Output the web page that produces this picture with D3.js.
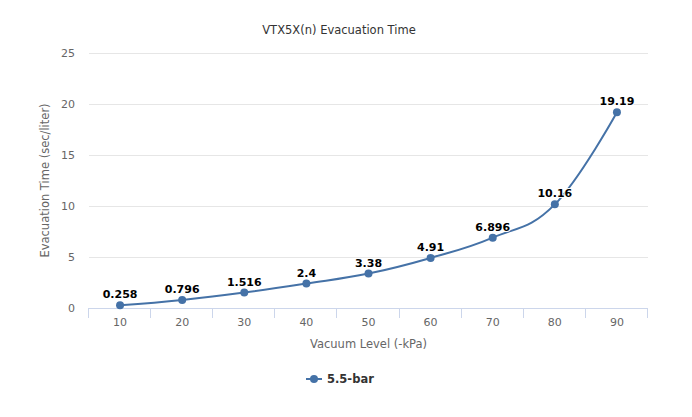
<!DOCTYPE html>
<html><head><meta charset="utf-8">
<script src="https://cdn.jsdelivr.net/npm/d3@7"></script>
<style>body{margin:0;background:#fff}svg{display:block}</style>
</head><body>
<svg id="chart" width="692" height="417"></svg>
<script>
const categories = ["10","20","30","40","50","60","70","80","90"];
const values = [0.258, 0.796, 1.516, 2.4, 3.38, 4.91, 6.896, 10.16, 19.19];
const labels = ["0.258","0.796","1.516","2.4","3.38","4.91","6.896","10.16","19.19"];
const yTicks = [0, 5, 10, 15, 20, 25];
const seriesName = "5.5-bar";
const title = "VTX5X(n) Evacuation Time";
const xTitle = "Vacuum Level (-kPa)";
const yTitle = "Evacuation Time (sec/liter)";

const FONT = "'DejaVu Sans', Verdana, sans-serif";
const color = "#4572a7";
const svg = d3.select("#chart");
const L = 89, R = 648, T = 53, B = 308;

const x = d3.scaleBand().domain(categories).range([L, R]);
const y = d3.scaleLinear().domain([0, 25]).range([B, T]);

svg.append("text").attr("x", 339).attr("y", 34).attr("text-anchor", "middle")
  .attr("font-family", FONT).attr("font-size", 11.5).attr("fill", "#333").text(title);

// grid
svg.append("g").selectAll("line").data(yTicks.filter(d => d > 0)).join("line")
  .attr("x1", L).attr("x2", R).attr("y1", d => Math.round(y(d)) + 0.5).attr("y2", d => Math.round(y(d)) + 0.5)
  .attr("stroke", "#e6e6e6");

// y labels
svg.append("g").selectAll("text").data(yTicks).join("text")
  .attr("x", 75).attr("y", d => y(d) + 4).attr("text-anchor", "end")
  .attr("font-family", FONT).attr("font-size", 11).attr("fill", "#666").text(d => d);

svg.append("text").attr("transform", `translate(49,${(T + B) / 2}) rotate(-90)`)
  .attr("text-anchor", "middle").attr("font-family", FONT).attr("font-size", 11.5).attr("fill", "#666").text(yTitle);

// x axis
svg.append("line").attr("x1", L).attr("x2", R).attr("y1", B + 0.5).attr("y2", B + 0.5).attr("stroke", "#ccd6eb");
const tickPos = categories.map(c => x(c)).concat([R]);
svg.append("g").selectAll("line").data(tickPos).join("line")
  .attr("x1", d => Math.round(d) - 0.5).attr("x2", d => Math.round(d) - 0.5).attr("y1", B).attr("y2", B + 10)
  .attr("stroke", "#ccd6eb");
svg.append("g").selectAll("text").data(categories).join("text")
  .attr("x", d => x(d) + x.bandwidth() / 2).attr("y", 326).attr("text-anchor", "middle")
  .attr("font-family", FONT).attr("font-size", 11).attr("fill", "#666").text(d => d);
svg.append("text").attr("x", (L + R) / 2).attr("y", 348).attr("text-anchor", "middle")
  .attr("font-family", FONT).attr("font-size", 11.5).attr("fill", "#666").text(xTitle);

// spline (Highcharts-style)
const pts = values.map((v, i) => ({ x: x(categories[i]) + x.bandwidth() / 2, y: y(v) }));
function splinePath(points) {
  const sm = 1.5, den = sm + 1;
  let d = `M${points[0].x},${points[0].y}`;
  for (let i = 1; i < points.length; i++) {
    const p = points[i], lp = points[i - 1], np = points[i + 1];
    let lcx, lcy, rcx, rcy;
    if (np) {
      lcx = (sm * p.x + lp.x) / den; lcy = (sm * p.y + lp.y) / den;
      rcx = (sm * p.x + np.x) / den; rcy = (sm * p.y + np.y) / den;
      let corr = 0;
      if (rcx !== lcx) corr = ((rcy - lcy) * (rcx - p.x)) / (rcx - lcx) + p.y - rcy;
      lcy += corr; rcy += corr;
      if (lcy > lp.y && lcy > p.y) { lcy = Math.max(lp.y, p.y); rcy = 2 * p.y - lcy; }
      else if (lcy < lp.y && lcy < p.y) { lcy = Math.min(lp.y, p.y); rcy = 2 * p.y - lcy; }
      if (rcy > np.y && rcy > p.y) { rcy = Math.max(np.y, p.y); lcy = 2 * p.y - rcy; }
      else if (rcy < np.y && rcy < p.y) { rcy = Math.min(np.y, p.y); lcy = 2 * p.y - rcy; }
      p.rcx = rcx; p.rcy = rcy;
    }
    const c1x = lp.rcx ?? lp.x, c1y = lp.rcy ?? lp.y;
    d += `C${c1x},${c1y},${lcx ?? p.x},${lcy ?? p.y},${p.x},${p.y}`;
  }
  return d;
}
svg.append("path").attr("d", splinePath(pts)).attr("fill", "none").attr("stroke", color).attr("stroke-width", 2);
svg.append("g").selectAll("circle").data(pts).join("circle")
  .attr("cx", d => d.x).attr("cy", d => d.y).attr("r", 4).attr("fill", color);

svg.append("g").selectAll("text").data(pts).join("text")
  .attr("x", d => d.x).attr("y", (d) => d.y - 7).attr("text-anchor", "middle")
  .attr("font-family", FONT).attr("font-size", 11).attr("font-weight", "bold")
  .attr("fill", "#000").attr("stroke", "#fff").attr("stroke-width", 2).attr("paint-order", "stroke")
  .attr("stroke-linejoin", "round")
  .text((d, i) => labels[i]);

// legend
const lg = svg.append("g");
lg.append("line").attr("x1", 306).attr("x2", 322).attr("y1", 379).attr("y2", 379).attr("stroke", color).attr("stroke-width", 2);
lg.append("circle").attr("cx", 314).attr("cy", 379).attr("r", 4).attr("fill", color);
lg.append("text").attr("x", 327).attr("y", 383).attr("font-family", FONT).attr("font-size", 11.5)
  .attr("font-weight", "bold").attr("fill", "#333").text(seriesName);
</script>
</body></html>
